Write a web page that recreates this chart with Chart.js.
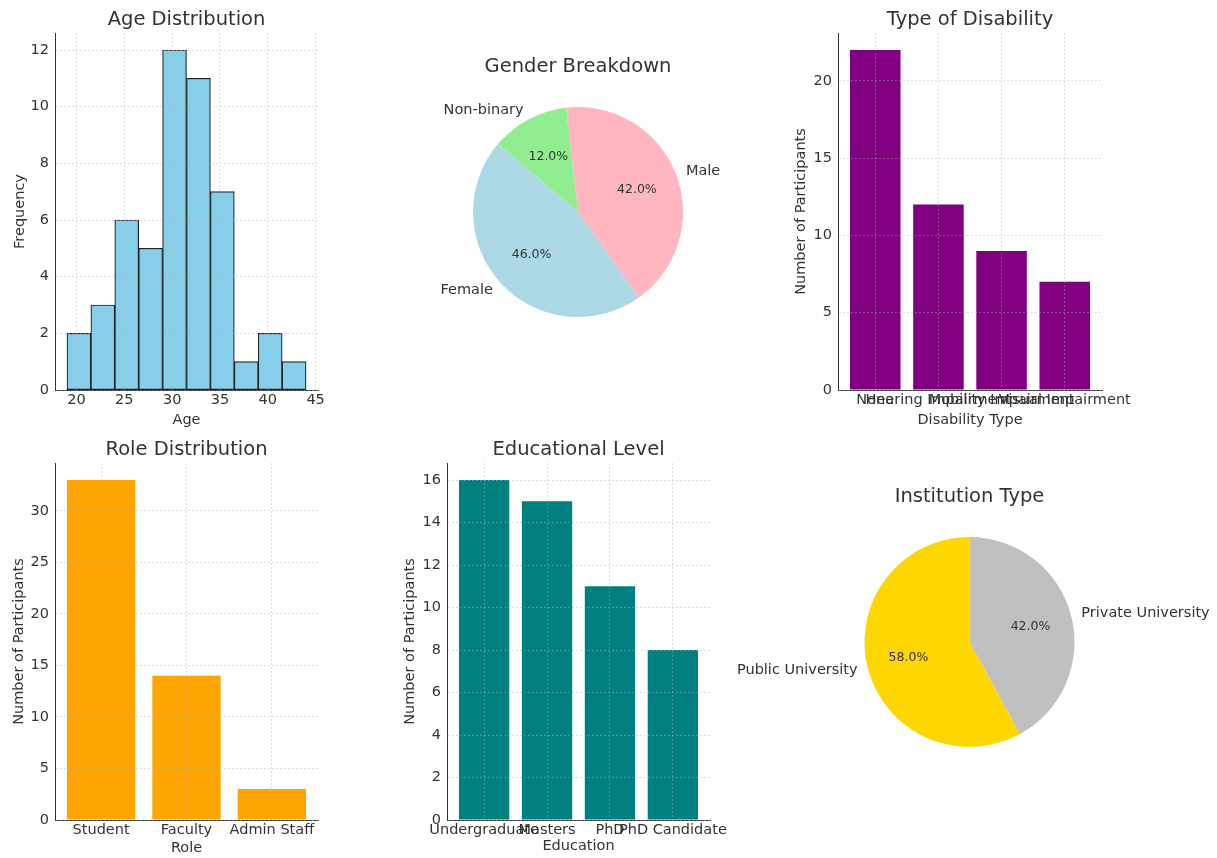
<!DOCTYPE html>
<html>
<head>
<meta charset="utf-8">
<title>Participant Demographics</title>
<script src="https://cdn.jsdelivr.net/npm/chart.js@4.4.1/dist/chart.umd.min.js"></script>
<style>
  html, body { margin: 0; padding: 0; background: #fff; }
  #board { position: relative; width: 1217px; height: 858px; overflow: hidden; }
  #board canvas { position: absolute; }
</style>
</head>
<body>
<div id="board">
  <canvas id="ageChart"></canvas>
  <canvas id="genderChart"></canvas>
  <canvas id="disabilityChart"></canvas>
  <canvas id="roleChart"></canvas>
  <canvas id="educationChart"></canvas>
  <canvas id="institutionChart"></canvas>
</div>
<script>
// Data (50 participants)
const ageBinEdges = [19, 21.5, 24, 26.5, 29, 31.5, 34, 36.5, 39, 41.5, 44];
const ageCounts = [2, 3, 6, 5, 12, 11, 7, 1, 2, 1];

const genderLabels = ['Male', 'Female', 'Non-binary'];
const genderCounts = [21, 23, 6];

const disabilityTypes = ['None', 'Hearing Impairment', 'Mobility Impairment', 'Visual Impairment'];
const disabilityCounts = [22, 12, 9, 7];

const roles = ['Student', 'Faculty', 'Admin Staff'];
const roleCounts = [33, 14, 3];

const educationLevels = ['Undergraduate', 'Masters', 'PhD', 'PhD Candidate'];
const educationCounts = [16, 15, 11, 8];

const institutionTypes = ['Public University', 'Private University'];
const institutionCounts = [29, 21];

const FONT = "'DejaVu Sans', sans-serif";
const INK = '#333';
const GRID = 'rgba(176,176,176,0.55)';
const TITLE_SIZE = 19.5;
const TITLE_LH = TITLE_SIZE * 1.2;
const TEXT_SIZE = 14.5;
const TEXT_HALF = TEXT_SIZE * 1.2 / 2;

Chart.defaults.font.family = FONT;
Chart.defaults.color = INK;

function place(id, left, top, w, h) {
    const c = document.getElementById(id);
    c.style.left = left + 'px';
    c.style.top = top + 'px';
    c.width = w;
    c.height = h;
    return c;
}

// matplotlib style: 5% margin around the data
function padRange(lo, hi) {
    const m = (hi - lo) * 0.05;
    return [lo - m, hi + m];
}

function makeBarPanel(p) {
    const [cl, ct, cw, ch] = p.frame;
    const [L, T, R, B] = p.axes;
    const titleTop = p.titleY - ct - TITLE_LH / 2;
    const canvas = place(p.id, cl, ct, cw, ch);
    return new Chart(canvas, {
        type: 'bar',
        data: {
            datasets: [{
                data: p.points,
                backgroundColor: p.color,
                borderColor: p.edge || p.color,
                borderWidth: p.edge ? 1.2 : 0,
                borderSkipped: false,
                barPercentage: p.barPct,
                categoryPercentage: 1
            }]
        },
        options: {
            responsive: false,
            animation: false,
            events: [],
            layout: { padding: { left: 0, top: 0, bottom: 0, right: cl + cw - R } },
            plugins: {
                legend: { display: false },
                tooltip: { enabled: false },
                title: {
                    display: true,
                    text: p.title,
                    fullSize: false,
                    color: INK,
                    font: { size: TITLE_SIZE, weight: 'normal' },
                    padding: { top: titleTop, bottom: (T - ct) - titleTop - TITLE_LH }
                }
            },
            scales: {
                x: {
                    type: 'linear',
                    offset: false,
                    min: p.xRange[0],
                    max: p.xRange[1],
                    grid: { offset: false, drawTicks: false, color: GRID, lineWidth: 0.8, z: 1 },
                    border: { color: INK, width: 1, dash: [2, 2], z: 1 },
                    ticks: {
                        stepSize: p.xStep,
                        includeBounds: false,
                        autoSkip: false,
                        maxRotation: 0,
                        minRotation: 0,
                        padding: 10 - TEXT_HALF,
                        color: INK,
                        font: { size: TEXT_SIZE },
                        callback: p.xLabel
                    },
                    title: {
                        display: true,
                        text: p.xTitle,
                        color: INK,
                        font: { size: TEXT_SIZE },
                        padding: { top: 0, bottom: p.xTitleBottom - TEXT_HALF }
                    },
                    afterFit: s => { s.height = ct + ch - B; }
                },
                y: {
                    min: 0,
                    max: p.yMax,
                    grid: { drawTicks: false, color: GRID, lineWidth: 0.8, z: 1 },
                    border: { color: INK, width: 1, dash: [2, 2], z: 1 },
                    ticks: {
                        stepSize: p.yStep,
                        includeBounds: false,
                        padding: 6,
                        color: INK,
                        font: { size: TEXT_SIZE }
                    },
                    title: {
                        display: true,
                        text: p.yTitle,
                        color: INK,
                        font: { size: TEXT_SIZE },
                        padding: { top: p.yTitleX - TEXT_HALF, bottom: 0 }
                    },
                    afterFit: s => { s.width = L - cl; }
                }
            }
        }
    });
}

// slice names outside, percentages inside, like autopct
const pieLabels = {
    id: 'pieLabels',
    afterDatasetsDraw(chart) {
        const ctx = chart.ctx;
        const values = chart.data.datasets[0].data;
        const total = values.reduce((a, b) => a + b, 0);
        chart.getDatasetMeta(0).data.forEach((arc, i) => {
            const { x, y, startAngle, endAngle, outerRadius } =
                arc.getProps(['x', 'y', 'startAngle', 'endAngle', 'outerRadius'], true);
            const mid = (startAngle + endAngle) / 2;
            const cos = Math.cos(mid), sin = Math.sin(mid);
            ctx.save();
            ctx.fillStyle = INK;
            ctx.textBaseline = 'middle';
            ctx.font = TEXT_SIZE + 'px ' + FONT;
            ctx.textAlign = cos >= 0 ? 'left' : 'right';
            ctx.fillText(chart.data.labels[i], x + cos * outerRadius * 1.1, y + sin * outerRadius * 1.1);
            ctx.font = '12.5px ' + FONT;
            ctx.textAlign = 'center';
            ctx.fillText((values[i] / total * 100).toFixed(1) + '%', x + cos * outerRadius * 0.6, y + sin * outerRadius * 0.6);
            ctx.restore();
        });
    }
};

function makePiePanel(p) {
    const [cl, ct, cw, ch] = p.frame;
    const [cx, cy] = p.center;
    const r = p.radius;
    const titleTop = p.titleY - ct - TITLE_LH / 2;
    const canvas = place(p.id, cl, ct, cw, ch);
    return new Chart(canvas, {
        type: 'pie',
        data: {
            labels: p.labels,
            datasets: [{ data: p.counts, backgroundColor: p.colors, borderWidth: 0, radius: r }]
        },
        options: {
            responsive: false,
            animation: false,
            events: [],
            rotation: p.rotation,
            layout: {
                padding: { left: cx - r - cl, right: cl + cw - (cx + r), top: 0, bottom: ct + ch - (cy + r) }
            },
            plugins: {
                legend: { display: false },
                tooltip: { enabled: false },
                title: {
                    display: true,
                    text: p.title,
                    fullSize: false,
                    color: INK,
                    font: { size: TITLE_SIZE, weight: 'normal' },
                    padding: { top: titleTop, bottom: (cy - r - ct) - titleTop - TITLE_LH }
                }
            }
        },
        plugins: [pieLabels]
    });
}

// Age histogram
const agePoints = ageCounts.map((c, i) => ({ x: (ageBinEdges[i] + ageBinEdges[i + 1]) / 2, y: c }));
makeBarPanel({
    id: 'ageChart', frame: [0, 0, 345, 430], axes: [55, 33, 318, 390],
    title: 'Age Distribution', titleY: 20,
    points: agePoints, color: '#87CEEB', edge: '#222', barPct: 1,
    xRange: padRange(ageBinEdges[0], ageBinEdges[ageBinEdges.length - 1]), xStep: 5,
    xTitle: 'Age', xTitleBottom: 10,
    yMax: Math.max(...ageCounts) * 1.05, yStep: 2,
    yTitle: 'Frequency', yTitleX: 20
});

// categorical bar panels share the same build
function categoryPoints(values) {
    return values.map((v, i) => ({ x: i, y: v }));
}

makeBarPanel({
    id: 'disabilityChart', frame: [760, 0, 457, 430], axes: [838, 33, 1102, 390],
    title: 'Type of Disability', titleY: 20,
    points: categoryPoints(disabilityCounts), color: '#800080', barPct: 0.8,
    xRange: padRange(-0.4, disabilityTypes.length - 0.6), xStep: 1,
    xLabel: v => disabilityTypes[v],
    xTitle: 'Disability Type', xTitleBottom: 10,
    yMax: Math.max(...disabilityCounts) * 1.05, yStep: 5,
    yTitle: 'Number of Participants', yTitleX: 41.7
});

makeBarPanel({
    id: 'roleChart', frame: [0, 430, 345, 428], axes: [55, 463, 318, 820],
    title: 'Role Distribution', titleY: 450,
    points: categoryPoints(roleCounts), color: '#FFA500', barPct: 0.8,
    xRange: padRange(-0.4, roles.length - 0.6), xStep: 1,
    xLabel: v => roles[v],
    xTitle: 'Role', xTitleBottom: 9.7,
    yMax: Math.max(...roleCounts) * 1.05, yStep: 5,
    yTitle: 'Number of Participants', yTitleX: 19.5
});

makeBarPanel({
    id: 'educationChart', frame: [390, 430, 370, 428], axes: [447, 463, 710, 820],
    title: 'Educational Level', titleY: 450,
    points: categoryPoints(educationCounts), color: '#008080', barPct: 0.8,
    xRange: padRange(-0.4, educationLevels.length - 0.6), xStep: 1,
    xLabel: v => educationLevels[v],
    xTitle: 'Education', xTitleBottom: 11.3,
    yMax: Math.max(...educationCounts) * 1.05, yStep: 2,
    yTitle: 'Number of Participants', yTitleX: 20.7
});

// Pies
makePiePanel({
    id: 'genderChart', frame: [400, 40, 356, 320], center: [578, 212], radius: 105,
    title: 'Gender Breakdown', titleY: 67,
    labels: genderLabels, counts: genderCounts,
    colors: ['#FFB6C1', '#ADD8E6', '#90EE90'], rotation: -6.5
});

makePiePanel({
    id: 'institutionChart', frame: [720, 470, 497, 340], center: [969.5, 642], radius: 105,
    title: 'Institution Type', titleY: 497,
    labels: institutionTypes, counts: institutionCounts,
    colors: ['#FFD700', '#C0C0C0'], rotation: 151.2
});
</script>
</body>
</html>
